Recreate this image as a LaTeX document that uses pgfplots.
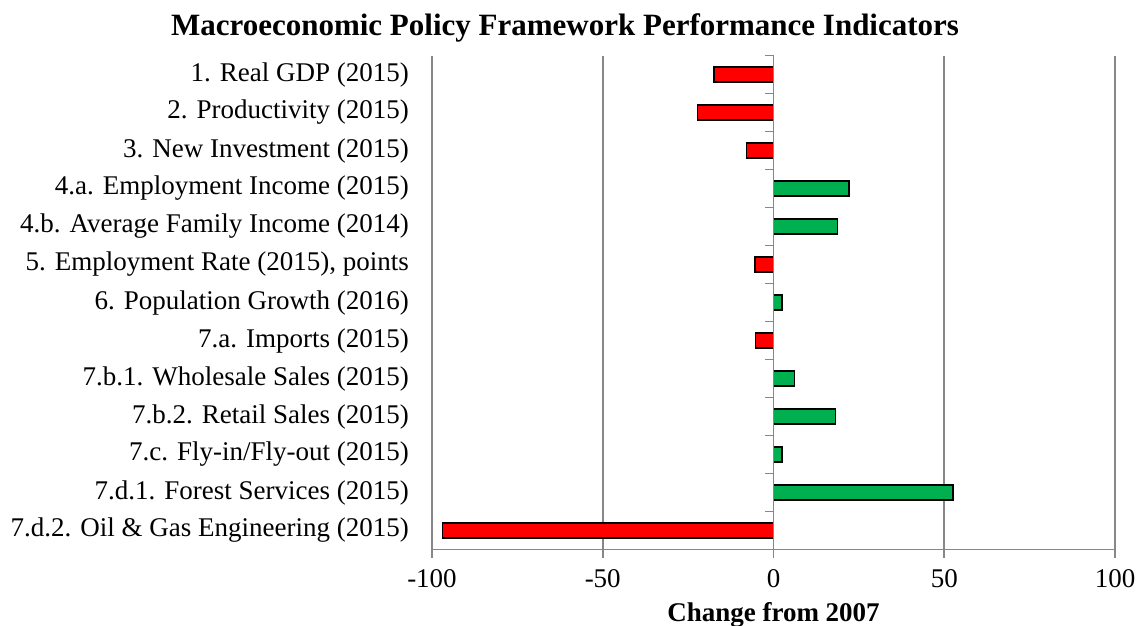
\documentclass[border=0pt]{standalone}
\usepackage{pgfplots}
\pgfplotsset{compat=1.18}
\usepackage{fontspec}
\setmainfont{Liberation Serif}
\definecolor{barred}{HTML}{FF0000}
\definecolor{bargreen}{HTML}{00B050}
\definecolor{gridgray}{HTML}{878787}
\begin{document}
\begin{tikzpicture}[x=1pt,y=1pt]
\useasboundingbox (0,0) rectangle (1145,625);
\begin{axis}[
  at={(432pt,75.5pt)}, anchor=south west,
  scale only axis, width=683pt, height=494pt,
  xmin=-100, xmax=100, ymin=-0.5, ymax=12.5, y dir=reverse,
  axis x line*=bottom, axis y line*=left,
  y axis line style={draw=none},
  x axis line style={gridgray, line width=1.6pt, -},
  xtick={-100,-50,0,50,100},
  xmajorgrids, grid style={gridgray, line width=1.6pt},
  xtick style={gridgray, line width=1.6pt},
  xtick align=outside,
  major tick length=8pt,
  ytick={0,...,12},
  ytick style={draw=none},
  yticklabels={1. Real GDP (2015),2. Productivity (2015),3. New Investment (2015),4.a. Employment Income (2015),4.b. Average Family Income (2014),{5. Employment Rate (2015), points},6. Population Growth (2016),7.a. Imports (2015),7.b.1. Wholesale Sales (2015),7.b.2. Retail Sales (2015),7.c. Fly-in/Fly-out (2015),7.d.1. Forest Services (2015),7.d.2. Oil \& Gas Engineering (2015)},
  yticklabel style={font=\fontsize{27}{30}\selectfont, anchor=east, inner sep=0pt, xshift=-15pt},
  xticklabel style={font=\fontsize{27}{30}\selectfont, inner sep=0pt, yshift=-12pt},
  /pgf/number format/assume math mode=true,
  xlabel={\textbf{Change from 2007}},
  xlabel style={font=\fontsize{27}{30}\selectfont, inner sep=0pt, yshift=-14pt},
  xbar, bar width=14.5pt,
  clip=false,
]
\addplot[draw=black, line width=1.6pt, fill=barred, bar shift=0pt] coordinates {
  (-17.4,0) (-22.2,1) (-7.9,2) (-5.5,5) (-5.3,7) (-96.9,12)
};
\addplot[draw=black, line width=1.6pt, fill=bargreen, bar shift=0pt] coordinates {
  (22.1,3) (18.7,4) (2.5,6) (6.1,8) (18.1,9) (2.5,10) (52.5,11)
};
\draw[gridgray, line width=1.6pt] (axis cs:0,-0.5) -- (axis cs:0,12.5);
\pgfplotsinvokeforeach{-0.5,0.5,1.5,2.5,3.5,4.5,5.5,6.5,7.5,8.5,9.5,10.5,11.5,12.5}{
  \draw[gridgray, line width=1.6pt] (axis cs:0,#1) -- (axis cs:-2.4,#1);
}
\end{axis}
\node[font=\fontsize{31}{34}\selectfont\bfseries, inner sep=0pt] at (565,597) {Macroeconomic Policy Framework Performance Indicators};
\end{tikzpicture}
\end{document}
